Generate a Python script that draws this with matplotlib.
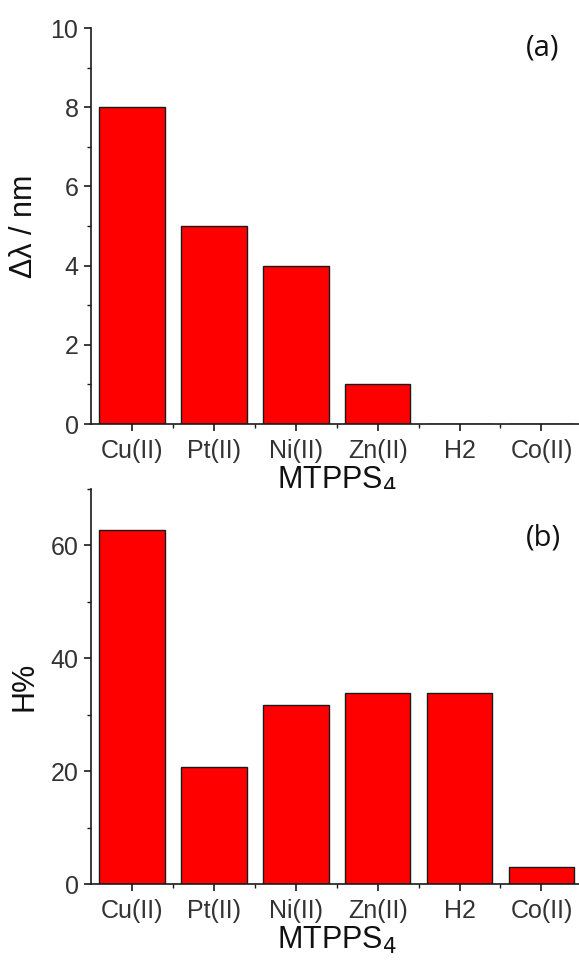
import matplotlib
matplotlib.use("Agg")
import matplotlib.pyplot as plt
from matplotlib.ticker import MultipleLocator, FixedLocator

categories = ["Cu(II)", "Pt(II)", "Ni(II)", "Zn(II)", "H2", "Co(II)"]
shift_nm = [8, 5, 4, 1, 0, 0]
h_percent = [62.8, 20.8, 31.8, 33.8, 33.8, 3.0]

plt.rcParams['font.family'] = ['Liberation Sans', 'DejaVu Sans']

fig = plt.figure(figsize=(5.79, 9.6), dpi=100)
W, H = 579, 960

def make_ax(top_px, bottom_px):
    left = 91 / W
    width = (582.4 - 91) / W
    return fig.add_axes([left, 1 - bottom_px / H, width, (bottom_px - top_px) / H])

ax1 = make_ax(28, 424)
ax2 = make_ax(489, 884)

x = list(range(len(categories)))

for ax, vals, ylim, major, minor, ylabel, tag, tagy in [
    (ax1, shift_nm, 10, 2, 1, "Δλ / nm", "(a)", 0.95),
    (ax2, h_percent, 70, 20, 10, "H%", "(b)", 0.875),
]:
    ax.bar(x, vals, width=0.8, color="#ff0000", edgecolor="#1a1a1a", linewidth=1.0, zorder=2)
    ax.set_xlim(-0.5, 5.5)
    ax.set_ylim(0, ylim)
    ax.spines['top'].set_visible(False)
    ax.spines['right'].set_visible(False)
    for s in ('left', 'bottom'):
        ax.spines[s].set_linewidth(1.2)
        ax.spines[s].set_color('#1a1a1a')
    ax.set_xticks(x)
    ax.set_xticklabels(categories)
    ax.xaxis.set_minor_locator(FixedLocator([0.5, 1.5, 2.5, 3.5, 4.5]))
    ax.yaxis.set_major_locator(MultipleLocator(major))
    ax.yaxis.set_minor_locator(MultipleLocator(minor))
    ax.tick_params(axis='both', which='major', direction='out', length=5, width=1.2,
                   labelsize=18, colors='#1a1a1a', labelcolor='#333333', pad=4)
    ax.tick_params(axis='x', which='major', pad=6)
    ax.tick_params(axis='both', which='minor', direction='out', length=3, width=1.0, colors='#1a1a1a')
    ax.set_xlabel("MTPPS$_4$", fontsize=22, color='#111111', labelpad=1)
    ax.set_ylabel(ylabel, fontsize=22, color='#111111')
    ax.yaxis.set_label_coords(-0.105, 0.5)
    ax.text(0.92, tagy, tag, transform=ax.transAxes, ha='center', va='center',
            fontsize=21, family=['Open Sans', 'DejaVu Sans'], color='#111111')

fig.savefig("out.png", dpi=100)
